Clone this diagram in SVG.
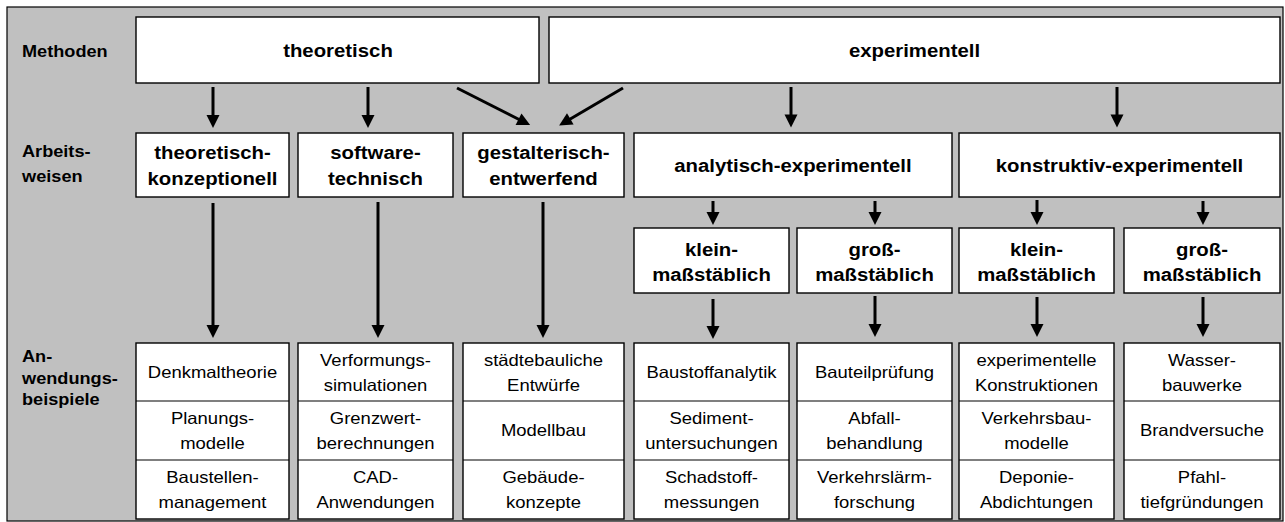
<svg xmlns="http://www.w3.org/2000/svg" width="1285" height="522" viewBox="0 0 1285 522">
<style>
.bg{fill:#c0c0c0;stroke:#000;stroke-width:1.2}
.box{fill:#fff;stroke:#000;stroke-width:1.4}
.div{stroke:#000;stroke-width:1.2}
.lbl{font-family:"Liberation Sans",Arial,sans-serif;font-weight:bold;font-size:16.5px;fill:#000;transform-box:fill-box;transform-origin:left center;transform:scaleX(1.1)}
.hd{font-family:"Liberation Sans",Arial,sans-serif;font-weight:bold;font-size:18.5px;fill:#000;text-anchor:middle;transform-box:fill-box;transform-origin:center;transform:scaleX(1.1)}
.ex{font-family:"Liberation Sans",Arial,sans-serif;font-size:16.5px;fill:#000;text-anchor:middle;transform-box:fill-box;transform-origin:center;transform:scaleX(1.12)}
.arr{stroke:#000;stroke-width:3;fill:none;marker-end:url(#ah)}
</style>
<defs>
<marker id="ah" markerUnits="userSpaceOnUse" markerWidth="14" markerHeight="13" refX="5" refY="6.5" orient="auto" overflow="visible">
<path d="M0,0 L13,6.5 L0,13 Z" fill="#000"/>
</marker>
</defs>
<rect class="bg" x="7" y="7" width="1276" height="514"/>
<g id="row-labels">
<text class="lbl" x="22" y="57">Methoden</text>
<text class="lbl" x="22" y="157">Arbeits-</text>
<text class="lbl" x="22" y="182">weisen</text>
<text class="lbl" x="22" y="362">An-</text>
<text class="lbl" x="22" y="384">wendungs-</text>
<text class="lbl" x="22" y="405">beispiele</text>
</g>
<g id="m-theoretisch"><rect class="box" x="136" y="17" width="403" height="66"/><text class="hd" x="338" y="57">theoretisch</text></g>
<g id="m-experimentell"><rect class="box" x="549" y="17" width="731" height="66"/><text class="hd" x="914.5" y="57">experimentell</text></g>
<g id="a-theoretisch-konzeptionell"><rect class="box" x="136" y="133" width="153" height="64"/><text class="hd" x="212.5" y="159">theoretisch-</text><text class="hd" x="212.5" y="185">konzeptionell</text></g>
<g id="a-software-technisch"><rect class="box" x="298" y="133" width="155" height="64"/><text class="hd" x="375.5" y="159">software-</text><text class="hd" x="375.5" y="185">technisch</text></g>
<g id="a-gestalterisch-entwerfend"><rect class="box" x="463" y="133" width="161" height="64"/><text class="hd" x="543.5" y="159">gestalterisch-</text><text class="hd" x="543.5" y="185">entwerfend</text></g>
<g id="a-analytisch-experimentell"><rect class="box" x="634" y="133" width="318" height="64"/><text class="hd" x="793" y="172">analytisch-experimentell</text></g>
<g id="a-konstruktiv-experimentell"><rect class="box" x="959" y="133" width="321" height="64"/><text class="hd" x="1119.5" y="172">konstruktiv-experimentell</text></g>
<g id="s-klein-1"><rect class="box" x="634" y="228" width="155" height="65"/><text class="hd" x="711.5" y="256">klein-</text><text class="hd" x="711.5" y="281">maßstäblich</text></g>
<g id="s-gross-1"><rect class="box" x="797" y="228" width="155" height="65"/><text class="hd" x="874.5" y="256">groß-</text><text class="hd" x="874.5" y="281">maßstäblich</text></g>
<g id="s-klein-2"><rect class="box" x="959" y="228" width="155" height="65"/><text class="hd" x="1036.5" y="256">klein-</text><text class="hd" x="1036.5" y="281">maßstäblich</text></g>
<g id="s-gross-2"><rect class="box" x="1124" y="228" width="156" height="65"/><text class="hd" x="1202" y="256">groß-</text><text class="hd" x="1202" y="281">maßstäblich</text></g>
<g id="b-col1"><rect class="box" x="136" y="343" width="153" height="176"/><line class="div" x1="136" y1="401" x2="289" y2="401"/><line class="div" x1="136" y1="460" x2="289" y2="460"/>
<text class="ex" x="212.5" y="378">Denkmaltheorie</text>
<text class="ex" x="212.5" y="424">Planungs-</text><text class="ex" x="212.5" y="449">modelle</text>
<text class="ex" x="212.5" y="483">Baustellen-</text><text class="ex" x="212.5" y="508">management</text></g>
<g id="b-col2"><rect class="box" x="298" y="343" width="155" height="176"/><line class="div" x1="298" y1="401" x2="453" y2="401"/><line class="div" x1="298" y1="460" x2="453" y2="460"/>
<text class="ex" x="375.5" y="366">Verformungs-</text><text class="ex" x="375.5" y="391">simulationen</text>
<text class="ex" x="375.5" y="424">Grenzwert-</text><text class="ex" x="375.5" y="449">berechnungen</text>
<text class="ex" x="375.5" y="483">CAD-</text><text class="ex" x="375.5" y="508">Anwendungen</text></g>
<g id="b-col3"><rect class="box" x="463" y="343" width="161" height="176"/><line class="div" x1="463" y1="401" x2="624" y2="401"/><line class="div" x1="463" y1="460" x2="624" y2="460"/>
<text class="ex" x="543.5" y="366">städtebauliche</text><text class="ex" x="543.5" y="391">Entwürfe</text>
<text class="ex" x="543.5" y="436">Modellbau</text>
<text class="ex" x="543.5" y="483">Gebäude-</text><text class="ex" x="543.5" y="508">konzepte</text></g>
<g id="b-col4"><rect class="box" x="634" y="343" width="155" height="176"/><line class="div" x1="634" y1="401" x2="789" y2="401"/><line class="div" x1="634" y1="460" x2="789" y2="460"/>
<text class="ex" x="711.5" y="378">Baustoffanalytik</text>
<text class="ex" x="711.5" y="424">Sediment-</text><text class="ex" x="711.5" y="449">untersuchungen</text>
<text class="ex" x="711.5" y="483">Schadstoff-</text><text class="ex" x="711.5" y="508">messungen</text></g>
<g id="b-col5"><rect class="box" x="797" y="343" width="155" height="176"/><line class="div" x1="797" y1="401" x2="952" y2="401"/><line class="div" x1="797" y1="460" x2="952" y2="460"/>
<text class="ex" x="874.5" y="378">Bauteilprüfung</text>
<text class="ex" x="874.5" y="424">Abfall-</text><text class="ex" x="874.5" y="449">behandlung</text>
<text class="ex" x="874.5" y="483">Verkehrslärm-</text><text class="ex" x="874.5" y="508">forschung</text></g>
<g id="b-col6"><rect class="box" x="959" y="343" width="155" height="176"/><line class="div" x1="959" y1="401" x2="1114" y2="401"/><line class="div" x1="959" y1="460" x2="1114" y2="460"/>
<text class="ex" x="1036.5" y="366">experimentelle</text><text class="ex" x="1036.5" y="391">Konstruktionen</text>
<text class="ex" x="1036.5" y="424">Verkehrsbau-</text><text class="ex" x="1036.5" y="449">modelle</text>
<text class="ex" x="1036.5" y="483">Deponie-</text><text class="ex" x="1036.5" y="508">Abdichtungen</text></g>
<g id="b-col7"><rect class="box" x="1124" y="343" width="156" height="176"/><line class="div" x1="1124" y1="401" x2="1280" y2="401"/><line class="div" x1="1124" y1="460" x2="1280" y2="460"/>
<text class="ex" x="1202" y="366">Wasser-</text><text class="ex" x="1202" y="391">bauwerke</text>
<text class="ex" x="1202" y="436">Brandversuche</text>
<text class="ex" x="1202" y="483">Pfahl-</text><text class="ex" x="1202" y="508">tiefgründungen</text></g>
<g id="connectors">
<line class="arr" x1="213" y1="87" x2="213" y2="120"/>
<line class="arr" x1="368" y1="87" x2="368" y2="120"/>
<line class="arr" x1="457" y1="88" x2="523" y2="121.5"/>
<line class="arr" x1="623" y1="88" x2="566" y2="121.5"/>
<line class="arr" x1="791" y1="87" x2="791" y2="119.5"/>
<line class="arr" x1="1117" y1="87" x2="1117" y2="119.5"/>
<line class="arr" x1="213" y1="203" x2="213" y2="330"/>
<line class="arr" x1="378" y1="202" x2="378" y2="330"/>
<line class="arr" x1="543" y1="202" x2="543" y2="330"/>
<line class="arr" x1="713" y1="201" x2="713" y2="217"/>
<line class="arr" x1="875" y1="201" x2="875" y2="217"/>
<line class="arr" x1="1037" y1="200" x2="1037" y2="217"/>
<line class="arr" x1="1203" y1="201" x2="1203" y2="217"/>
<line class="arr" x1="713" y1="299" x2="713" y2="331"/>
<line class="arr" x1="875" y1="296" x2="875" y2="329"/>
<line class="arr" x1="1037" y1="297" x2="1037" y2="329"/>
<line class="arr" x1="1203" y1="297" x2="1203" y2="329"/>
</g>
</svg>
